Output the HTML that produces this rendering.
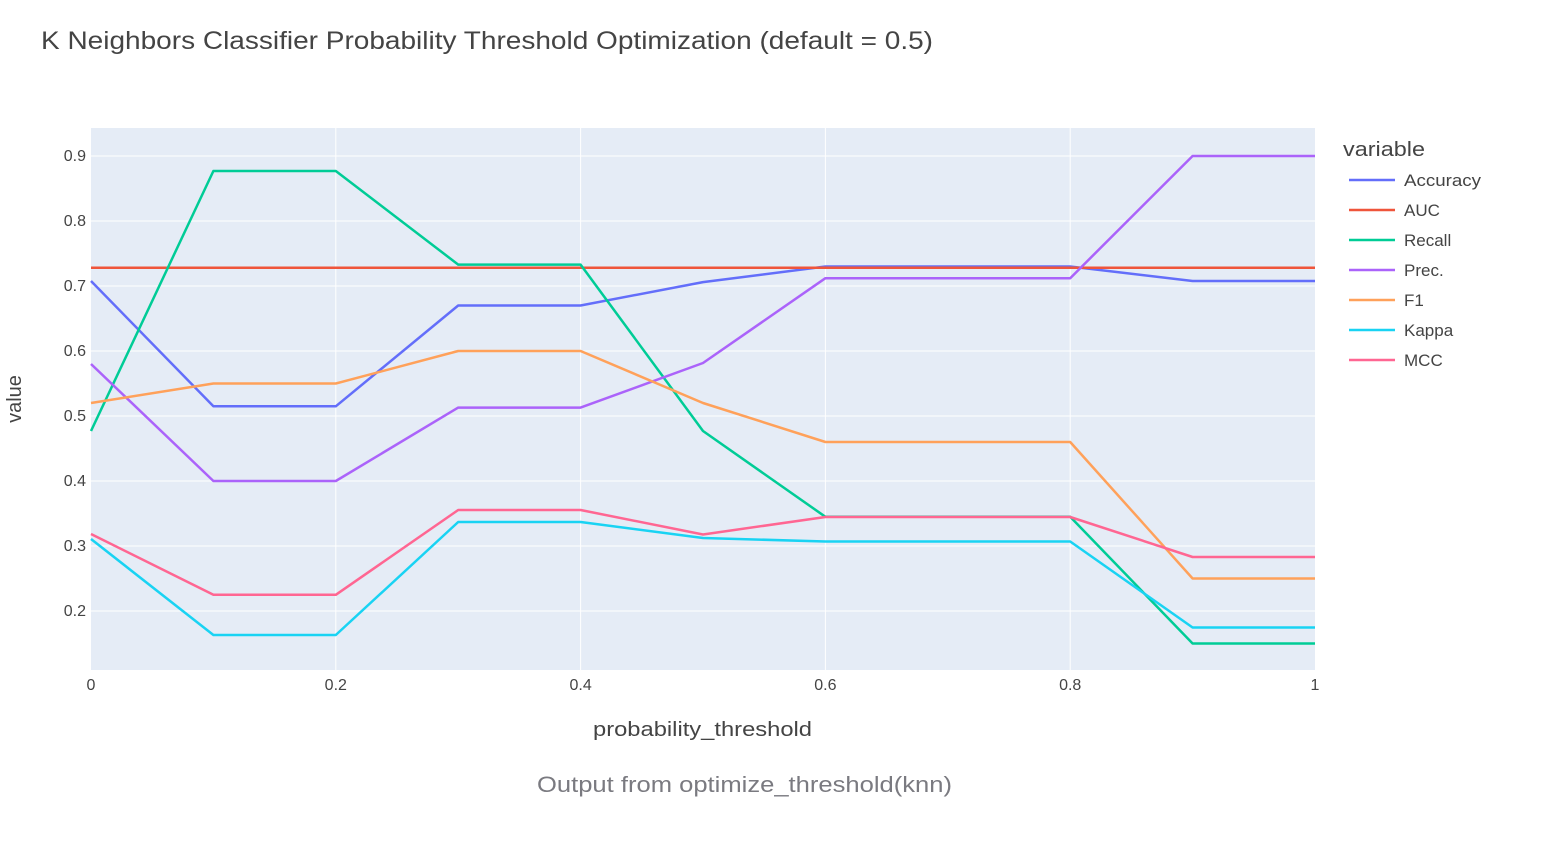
<!DOCTYPE html>
<html><head><meta charset="utf-8"><style>
body{margin:0;background:#fff;}
svg text{font-family:"Liberation Sans",sans-serif;fill:#444;}
</style></head><body>
<svg width="1548" height="836" xmlns="http://www.w3.org/2000/svg">
<text x="41" y="49" font-size="25" textLength="892" lengthAdjust="spacingAndGlyphs">K Neighbors Classifier Probability Threshold Optimization (default = 0.5)</text>
<rect x="91" y="128" width="1224" height="542" fill="#E5ECF6"/>
<g stroke="#fff" stroke-width="1">
<line x1="91" x2="1315" y1="611" y2="611"/><line x1="91" x2="1315" y1="546" y2="546"/>
<line x1="91" x2="1315" y1="481" y2="481"/><line x1="91" x2="1315" y1="416" y2="416"/>
<line x1="91" x2="1315" y1="351" y2="351"/><line x1="91" x2="1315" y1="286" y2="286"/>
<line x1="91" x2="1315" y1="221" y2="221"/><line x1="91" x2="1315" y1="156" y2="156"/>
<line x1="335.8" x2="335.8" y1="128" y2="670"/><line x1="580.6" x2="580.6" y1="128" y2="670"/>
<line x1="825.4" x2="825.4" y1="128" y2="670"/><line x1="1070.2" x2="1070.2" y1="128" y2="670"/>
</g>
<g font-size="16" text-anchor="end">
<text x="86" y="616">0.2</text><text x="86" y="551">0.3</text><text x="86" y="486">0.4</text>
<text x="86" y="421">0.5</text><text x="86" y="356">0.6</text><text x="86" y="291">0.7</text>
<text x="86" y="226">0.8</text><text x="86" y="161">0.9</text>
</g>
<g font-size="16" text-anchor="middle">
<text x="91" y="690">0</text><text x="335.8" y="690">0.2</text><text x="580.6" y="690">0.4</text>
<text x="825.4" y="690">0.6</text><text x="1070.2" y="690">0.8</text><text x="1315" y="690">1</text>
</g>
<text x="593" y="736" font-size="20" textLength="219" lengthAdjust="spacingAndGlyphs">probability_threshold</text>
<text transform="translate(21,399) rotate(-90)" font-size="20" text-anchor="middle">value</text>
<g fill="none" stroke-width="2.5" stroke-linejoin="round">
<polyline stroke="#636EFA" points="91,281 213.4,406.3 335.8,406.3 458.2,305.5 580.6,305.5 703,282.1 825.4,266.5 947.8,266.5 1070.2,266.5 1192.6,281 1315,281"/>
<polyline stroke="#EF553B" points="91,267.8 1315,267.8"/>
<polyline stroke="#00CC96" points="91,431 213.4,171 335.8,171 458.2,264.6 580.6,264.6 703,431 825.4,516.8 947.8,516.8 1070.2,516.8 1192.6,643.5 1315,643.5"/>
<polyline stroke="#AB63FA" points="91,364 213.4,481 335.8,481 458.2,407.6 580.6,407.6 703,363 825.4,278.2 947.8,278.2 1070.2,278.2 1192.6,156 1315,156"/>
<polyline stroke="#FFA15A" points="91,403 213.4,383.5 335.8,383.5 458.2,351 580.6,351 703,403 825.4,442 947.8,442 1070.2,442 1192.6,578.5 1315,578.5"/>
<polyline stroke="#19D3F3" points="91,539 213.4,635 335.8,635 458.2,522 580.6,522 703,538 825.4,541.5 947.8,541.5 1070.2,541.5 1192.6,627.5 1315,627.5"/>
<polyline stroke="#FF6692" points="91,534 213.4,594.8 335.8,594.8 458.2,510 580.6,510 703,534.5 825.4,517 947.8,517 1070.2,517 1192.6,557 1315,557"/>
</g>
<text x="1343" y="156" font-size="20" textLength="82" lengthAdjust="spacingAndGlyphs">variable</text>
<g font-size="17" stroke-width="2.5">
<line x1="1349" x2="1395" y1="180" y2="180" stroke="#636EFA"/><text x="1404" y="186" textLength="77" lengthAdjust="spacingAndGlyphs">Accuracy</text>
<line x1="1349" x2="1395" y1="210" y2="210" stroke="#EF553B"/><text x="1404" y="216">AUC</text>
<line x1="1349" x2="1395" y1="240" y2="240" stroke="#00CC96"/><text x="1404" y="246">Recall</text>
<line x1="1349" x2="1395" y1="270" y2="270" stroke="#AB63FA"/><text x="1404" y="276">Prec.</text>
<line x1="1349" x2="1395" y1="300" y2="300" stroke="#FFA15A"/><text x="1404" y="306">F1</text>
<line x1="1349" x2="1395" y1="330" y2="330" stroke="#19D3F3"/><text x="1404" y="336">Kappa</text>
<line x1="1349" x2="1395" y1="360" y2="360" stroke="#FF6692"/><text x="1404" y="366">MCC</text>
</g>
<text x="537" y="792" font-size="22" textLength="415" lengthAdjust="spacingAndGlyphs" style="fill:#7a7a80">Output from optimize_threshold(knn)</text>
</svg>
</body></html>
